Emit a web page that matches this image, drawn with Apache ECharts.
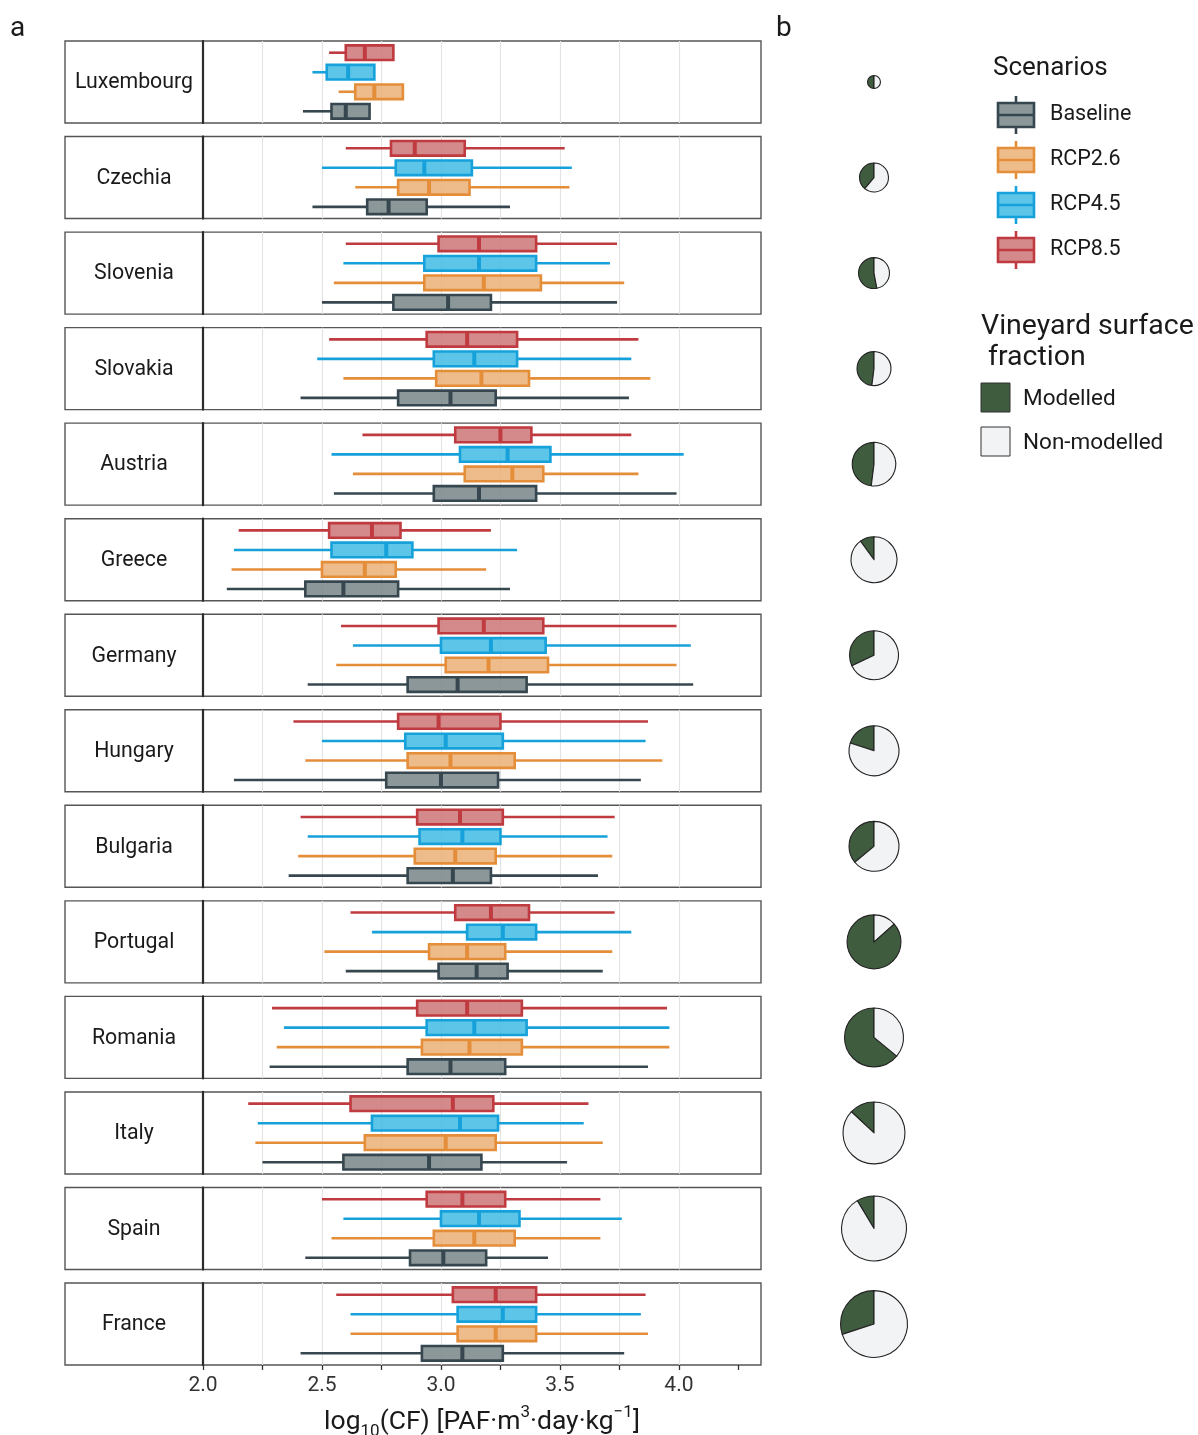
<!DOCTYPE html>
<html>
<head>
<meta charset="utf-8">
<script src="https://cdn.jsdelivr.net/npm/echarts@6/dist/echarts.min.js"></script>
<style>
  html, body { margin: 0; padding: 0; background: #ffffff; }
  #chart { width: 1198px; height: 1435px; }
</style>
</head>
<body>
<div id="chart"></div>
<script>
// ---- data -------------------------------------------------------------
const countries = ['Luxembourg', 'Czechia', 'Slovenia', 'Slovakia', 'Austria', 'Greece', 'Germany',
                   'Hungary', 'Bulgaria', 'Portugal', 'Romania', 'Italy', 'Spain', 'France'];
const scenarios = ['Baseline', 'RCP2.6', 'RCP4.5', 'RCP8.5'];

// log10(CF) box statistics per country: [lower whisker, Q1, median, Q3, upper whisker]
const baseline = [
  [2.42, 2.54, 2.60, 2.70, 2.70],
  [2.46, 2.69, 2.78, 2.94, 3.29],
  [2.50, 2.80, 3.03, 3.21, 3.74],
  [2.41, 2.82, 3.04, 3.23, 3.79],
  [2.55, 2.97, 3.16, 3.40, 3.99],
  [2.10, 2.43, 2.59, 2.82, 3.29],
  [2.44, 2.86, 3.07, 3.36, 4.06],
  [2.13, 2.77, 3.00, 3.24, 3.84],
  [2.36, 2.86, 3.05, 3.21, 3.66],
  [2.60, 2.99, 3.15, 3.28, 3.68],
  [2.28, 2.86, 3.04, 3.27, 3.87],
  [2.25, 2.59, 2.95, 3.17, 3.53],
  [2.43, 2.87, 3.01, 3.19, 3.45],
  [2.41, 2.92, 3.09, 3.26, 3.77]
];
const rcp26 = [
  [2.57, 2.64, 2.72, 2.84, 2.84],
  [2.64, 2.82, 2.95, 3.12, 3.54],
  [2.55, 2.93, 3.18, 3.42, 3.77],
  [2.59, 2.98, 3.17, 3.37, 3.88],
  [2.63, 3.10, 3.30, 3.43, 3.83],
  [2.12, 2.50, 2.68, 2.81, 3.19],
  [2.56, 3.02, 3.20, 3.45, 3.99],
  [2.43, 2.86, 3.04, 3.31, 3.93],
  [2.40, 2.89, 3.06, 3.23, 3.72],
  [2.51, 2.95, 3.11, 3.27, 3.72],
  [2.31, 2.92, 3.12, 3.34, 3.96],
  [2.22, 2.68, 3.02, 3.23, 3.68],
  [2.54, 2.97, 3.14, 3.31, 3.67],
  [2.62, 3.07, 3.23, 3.40, 3.87]
];
const rcp45 = [
  [2.46, 2.52, 2.61, 2.72, 2.72],
  [2.50, 2.81, 2.93, 3.13, 3.55],
  [2.59, 2.93, 3.16, 3.40, 3.71],
  [2.48, 2.97, 3.14, 3.32, 3.80],
  [2.54, 3.08, 3.28, 3.46, 4.02],
  [2.13, 2.54, 2.77, 2.88, 3.32],
  [2.63, 3.00, 3.21, 3.44, 4.05],
  [2.50, 2.85, 3.02, 3.26, 3.86],
  [2.44, 2.91, 3.09, 3.25, 3.70],
  [2.71, 3.11, 3.26, 3.40, 3.80],
  [2.34, 2.94, 3.14, 3.36, 3.96],
  [2.23, 2.71, 3.08, 3.24, 3.60],
  [2.59, 3.00, 3.16, 3.33, 3.76],
  [2.62, 3.07, 3.26, 3.40, 3.84]
];
const rcp85 = [
  [2.53, 2.60, 2.68, 2.80, 2.80],
  [2.60, 2.79, 2.89, 3.10, 3.52],
  [2.60, 2.99, 3.16, 3.40, 3.74],
  [2.53, 2.94, 3.11, 3.32, 3.83],
  [2.67, 3.06, 3.25, 3.38, 3.80],
  [2.15, 2.53, 2.71, 2.83, 3.21],
  [2.58, 2.99, 3.18, 3.43, 3.99],
  [2.38, 2.82, 2.99, 3.25, 3.87],
  [2.41, 2.90, 3.08, 3.26, 3.73],
  [2.62, 3.06, 3.21, 3.37, 3.73],
  [2.29, 2.90, 3.11, 3.34, 3.95],
  [2.19, 2.62, 3.05, 3.22, 3.62],
  [2.50, 2.94, 3.09, 3.27, 3.67],
  [2.56, 3.05, 3.23, 3.40, 3.86]
];

// vineyard surface: share covered by the model, and total surface (relative units)
const modelledShare = [0.50, 0.39, 0.53, 0.48, 0.48, 0.10, 0.32, 0.20, 0.36, 0.865, 0.64, 0.13, 0.086, 0.30];
const vineyardArea  = [4.2, 21.0, 24.0, 28.9, 47.5, 52.9, 60.0, 62.5, 62.5, 72.9, 87.0, 96.1, 105.6, 112.0];

// x axis
const tickValues = [2.0, 2.25, 2.5, 2.75, 3.0, 3.25, 3.5, 3.75, 4.0, 4.25];
const labelValues = [2.0, 2.5, 3.0, 3.5, 4.0];
const tickLabels = ['2.0', '2.5', '3.0', '3.5', '4.0'];

// ---- layout & style ---------------------------------------------------
const FONT = 'Roboto, "Noto Sans", sans-serif';
const TEXT = '#1a1a1a';
const PANEL_TOP0 = 41, PANEL_STEP = 95.54, PANEL_H = 82;
const PLOT_L = 203, PLOT_R = 761, STRIP_L = 65;
const PIE_X = 874;
const X_MIN = 2.0, X_MAX = 4.345;
const stats = [baseline, rcp26, rcp45, rcp85];
const strokeCol = ['#37474f', '#e58e3a', '#16a1da', '#bf3b40'];
const fillCol = ['rgba(120,133,135,0.85)', 'rgba(235,175,117,0.85)', 'rgba(64,187,228,0.85)', 'rgba(204,116,119,0.85)'];
const GREEN = '#3f5c3f', LIGHT = '#f1f3f4';
const LW = 2.6;

const panelTop = i => PANEL_TOP0 + i * PANEL_STEP;

function renderBox(params, api) {
  const pos = api.value(0);
  const lo = api.value(1), q1 = api.value(2), md = api.value(3), q3 = api.value(4), hi = api.value(5);
  const k = api.value(6);
  const h = api.size([0, 0.75])[1];
  const pLo = api.coord([lo, pos]), pQ1 = api.coord([q1, pos]), pMd = api.coord([md, pos]);
  const pQ3 = api.coord([q3, pos]), pHi = api.coord([hi, pos]);
  const y = pMd[1];
  const c = strokeCol[k];
  const children = [];
  if (pQ1[0] - pLo[0] > 0.5) {
    children.push({ type: 'line', shape: { x1: pLo[0], y1: y, x2: pQ1[0], y2: y },
      style: { stroke: c, lineWidth: LW } });
  }
  if (pHi[0] - pQ3[0] > 0.5) {
    children.push({ type: 'line', shape: { x1: pQ3[0], y1: y, x2: pHi[0], y2: y },
      style: { stroke: c, lineWidth: LW } });
  }
  children.push({ type: 'rect', shape: { x: pQ1[0], y: y - h / 2, width: pQ3[0] - pQ1[0], height: h },
    style: { fill: fillCol[k], stroke: c, lineWidth: LW } });
  children.push({ type: 'line', shape: { x1: pMd[0], y1: y - h / 2, x2: pMd[0], y2: y + h / 2 },
    style: { stroke: c, lineWidth: 4 } });
  return { type: 'group', children };
}

const grids = [], xAxes = [], yAxes = [], series = [], graphics = [];

countries.forEach((name, i) => {
  const top = panelTop(i);
  const isLast = i === countries.length - 1;
  grids.push({ left: PLOT_L, top: top, width: PLOT_R - PLOT_L, height: PANEL_H,
    outerBoundsMode: 'none', containLabel: false,
    show: true, borderColor: '#555555', borderWidth: 1.4, backgroundColor: 'transparent' });
  xAxes.push({
    type: 'value', gridIndex: i, min: X_MIN, max: X_MAX, interval: 0.25,
    axisLine: { show: false },
    axisTick: { show: isLast, customValues: tickValues, length: 5, lineStyle: { color: '#333', width: 1.3 } },
    axisLabel: { show: isLast, customValues: labelValues, margin: 10,
      fontSize: 21, color: '#333', fontFamily: FONT,
      formatter: v => tickLabels[labelValues.findIndex(t => Math.abs(t - v) < 1e-6)] || '' },
    splitLine: { show: true, showMinLine: false, showMaxLine: false, lineStyle: { color: '#e3e3e3', width: 1.2 } },
    name: isLast ? '{n|log}{s|10}{n|(CF) [PAF·m}{p|3}{n|·day·kg}{p|−1}{n|]}' : '',
    nameLocation: 'middle', nameGap: 39,
    nameTextStyle: {
      rich: {
        n: { fontSize: 26.5, fontFamily: FONT, color: TEXT, lineHeight: 36, verticalAlign: 'middle' },
        s: { fontSize: 17, fontFamily: FONT, color: TEXT, lineHeight: 23, verticalAlign: 'bottom' },
        p: { fontSize: 17, fontFamily: FONT, color: TEXT, lineHeight: 17, verticalAlign: 'top' }
      }
    }
  });
  yAxes.push({
    type: 'value', gridIndex: i, min: 0.4, max: 4.6,
    axisLine: { show: true, onZero: false, lineStyle: { color: '#2b2b2b', width: 2.2 } },
    axisTick: { show: false }, axisLabel: { show: false }, splitLine: { show: false }
  });
  series.push({
    type: 'custom', xAxisIndex: i, yAxisIndex: i, silent: true,
    renderItem: renderBox,
    encode: { x: [1, 2, 3, 4, 5], y: 0 },
    data: scenarios.map((s, k) => [k + 1].concat(stats[k][i], [k]))
  });
  series.push({
    type: 'pie', silent: true, animation: false,
    center: [PIE_X, top + PANEL_H / 2],
    radius: Math.sqrt(vineyardArea[i]) * 3.16,
    startAngle: 90, clockwise: false,
    label: { show: false }, labelLine: { show: false },
    itemStyle: { borderColor: '#222', borderWidth: 1.1 },
    data: [
      { name: 'Modelled', value: modelledShare[i], itemStyle: { color: GREEN } },
      { name: 'Non-modelled', value: 1 - modelledShare[i], itemStyle: { color: LIGHT } }
    ]
  });
  // facet strip on the left of each panel
  graphics.push({
    type: 'group', silent: true,
    children: [
      { type: 'rect', shape: { x: STRIP_L, y: top, width: PLOT_L - STRIP_L, height: PANEL_H },
        style: { fill: '#ffffff', stroke: '#555555', lineWidth: 1.4 } },
      { type: 'text', x: (STRIP_L + PLOT_L) / 2, y: top + PANEL_H / 2 + 1,
        style: { text: name, fontSize: 21.3, fontFamily: FONT, fill: TEXT, align: 'center', verticalAlign: 'middle' } }
    ]
  });
});

// panel tags
graphics.push({ type: 'text', x: 10, y: 29, style: { text: 'a', fontSize: 28, fontFamily: FONT, fill: TEXT, verticalAlign: 'middle' } });
graphics.push({ type: 'text', x: 776, y: 29, style: { text: 'b', fontSize: 28, fontFamily: FONT, fill: TEXT, verticalAlign: 'middle' } });

// scenario legend
graphics.push({ type: 'text', x: 993, y: 68, style: { text: 'Scenarios', fontSize: 26, fontFamily: FONT, fill: TEXT, verticalAlign: 'middle' } });
scenarios.forEach((s, k) => {
  const cy = 115 + 45 * k;
  graphics.push({
    type: 'group', silent: true,
    children: [
      { type: 'line', shape: { x1: 1016, y1: cy - 19, x2: 1016, y2: cy - 12 }, style: { stroke: strokeCol[k], lineWidth: LW } },
      { type: 'line', shape: { x1: 1016, y1: cy + 12, x2: 1016, y2: cy + 19 }, style: { stroke: strokeCol[k], lineWidth: LW } },
      { type: 'rect', shape: { x: 998, y: cy - 12, width: 36, height: 24 }, style: { fill: fillCol[k], stroke: strokeCol[k], lineWidth: LW } },
      { type: 'line', shape: { x1: 998, y1: cy, x2: 1034, y2: cy }, style: { stroke: strokeCol[k], lineWidth: LW } },
      { type: 'text', x: 1050, y: cy, style: { text: s, fontSize: 21.5, fontFamily: FONT, fill: TEXT, verticalAlign: 'middle' } }
    ]
  });
});

// vineyard surface legend
graphics.push({ type: 'text', x: 981, y: 342,
  style: { text: 'Vineyard surface\n fraction', fontSize: 28.5, lineHeight: 31, fontFamily: FONT, fill: TEXT, verticalAlign: 'middle' } });
[['Modelled', GREEN, 383], ['Non-modelled', LIGHT, 427]].forEach(([label, col, y]) => {
  graphics.push({ type: 'rect', shape: { x: 981, y: y, width: 29, height: 29 }, style: { fill: col, stroke: '#333', lineWidth: 1 } });
  graphics.push({ type: 'text', x: 1023, y: y + 16, style: { text: label, fontSize: 22.5, fontFamily: FONT, fill: TEXT, verticalAlign: 'middle' } });
});

const chart = echarts.init(document.getElementById('chart'), null, { renderer: 'canvas' });
chart.setOption({
  animation: false,
  backgroundColor: '#ffffff',
  grid: grids,
  xAxis: xAxes,
  yAxis: yAxes,
  series: series,
  graphic: graphics
});
</script>
</body>
</html>
